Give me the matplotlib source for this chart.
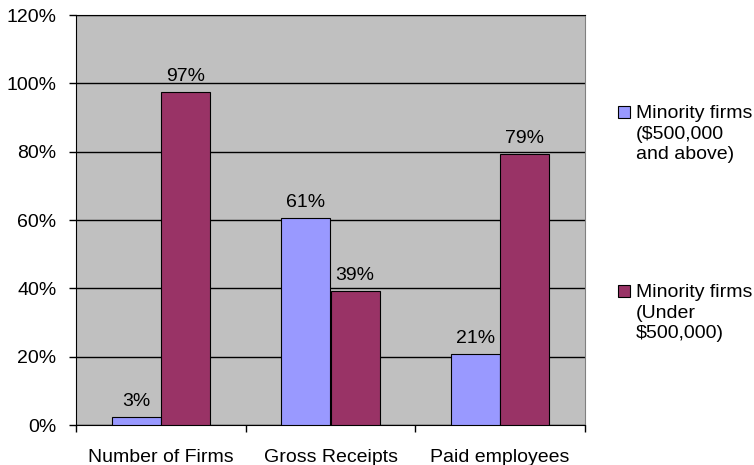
# minority firms share chart
import numpy as np
import matplotlib.pyplot as plt
from matplotlib.patches import Rectangle

categories = ["Number of Firms", "Gross Receipts", "Paid employees"]
above_500k = [2.4, 60.6, 20.8]
under_500k = [97.6, 39.2, 79.3]
above_labels = ["3%", "61%", "21%"]
under_labels = ["97%", "39%", "79%"]
series_names = ["Minority firms\n($500,000\nand above)", "Minority firms\n(Under\n$500,000)"]
yticks = [0, 20, 40, 60, 80, 100, 120]

plt.rcParams['font.family'] = ['Liberation Sans', 'DejaVu Sans']
fs = 14
blue = "#9999FF"
plum = "#993366"

fig = plt.figure(figsize=(7.54, 4.65), dpi=100)
ax = fig.add_axes([76 / 754, 40 / 465, 509 / 754, 410 / 465])
ax.set_facecolor("#C0C0C0")

x = np.arange(len(categories))
w = 0.29
b1 = ax.bar(x - w / 2, above_500k, w, color=blue, edgecolor="black", linewidth=0.8, zorder=3)
b2 = ax.bar(x + w / 2, under_500k, w, color=plum, edgecolor="black", linewidth=0.8, zorder=3)

# value labels above bars
for bars, labels in [(b1, above_labels), (b2, under_labels)]:
    for rect, lab in zip(bars, labels):
        ax.annotate(lab, (rect.get_x() + rect.get_width() / 2, rect.get_height()),
                    xytext=(0, 5), textcoords="offset points", ha="center", va="bottom",
                    fontsize=fs)

ax.set_xlim(-0.5, 2.5)
ax.set_ylim(0, 120)
ax.set_yticks(yticks)
ax.set_yticklabels([f"{t}%" for t in yticks], fontsize=fs)
ax.yaxis.grid(True, color="black", linewidth=1)
ax.set_axisbelow(True)
ax.tick_params(axis="y", direction="out", length=5, width=1, pad=9)

ax.set_xticks(x)
ax.set_xticklabels(categories, fontsize=fs)
ax.tick_params(axis="x", which="major", length=0, pad=17)
ax.set_xticks([-0.5, 0.5, 1.5, 2.5], minor=True)
ax.tick_params(axis="x", which="minor", direction="out", length=5, width=1)

ax.spines["top"].set_color("black")
ax.spines["right"].set_color("#808080")
ax.spines["left"].set_color("black")
ax.spines["bottom"].set_color("black")

# legend drawn by hand so the marker sits beside the first line
for name, col, ytop in [(series_names[0], blue, 106), (series_names[1], plum, 285)]:
    fig.patches.append(Rectangle((618 / 754, 1 - (ytop + 12) / 465), 12 / 754, 12 / 465,
                                 transform=fig.transFigure, facecolor=col,
                                 edgecolor="black", linewidth=0.8))
    fig.text(636 / 754, 1 - (ytop - 1) / 465, name, fontsize=fs, va="top", ha="left",
             linespacing=1.28)

plt.savefig("out.png", dpi=100)
